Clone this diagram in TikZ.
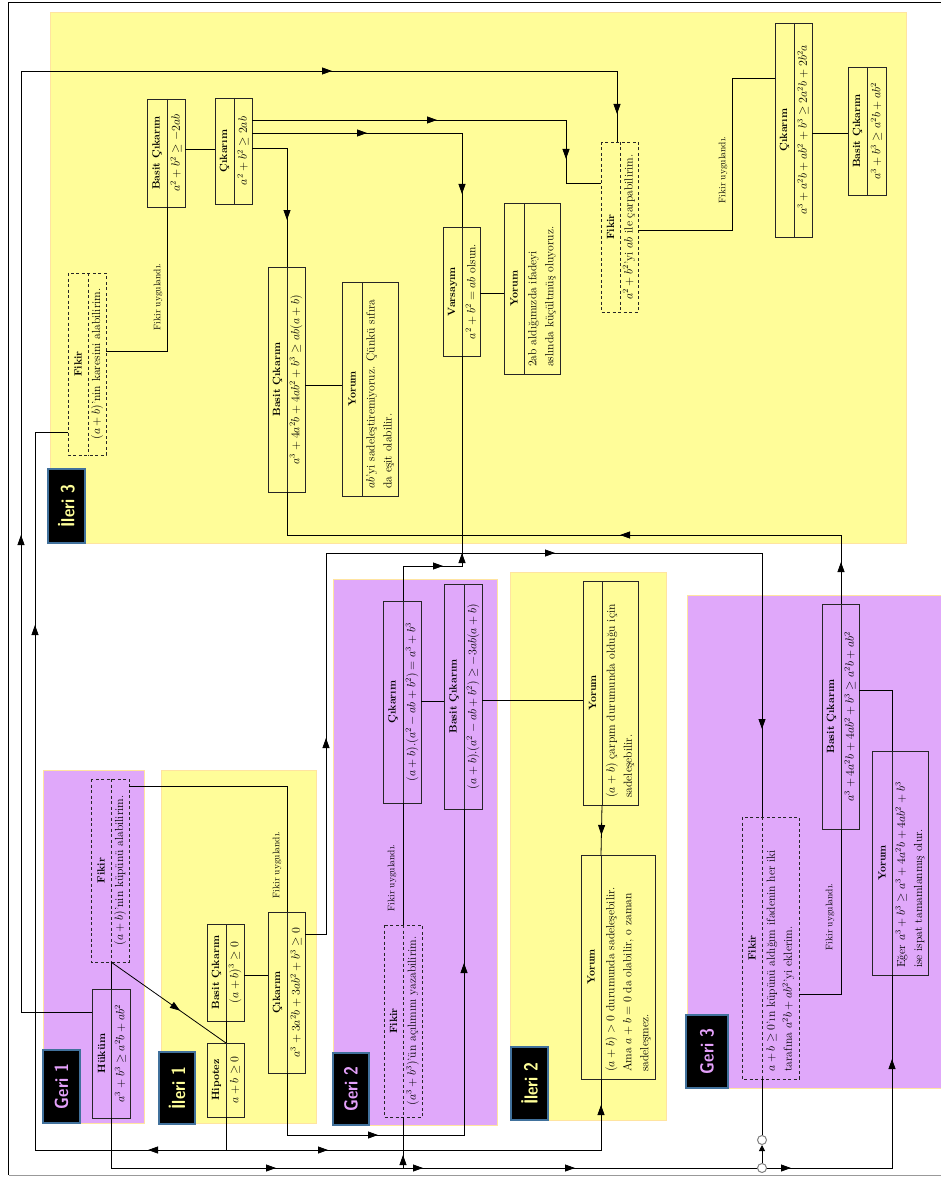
\documentclass[tikz,border=0pt]{standalone}
\usetikzlibrary{arrows.meta,decorations.markings,calc}

\definecolor{yel}{RGB}{255,253,153}
\definecolor{pur}{RGB}{224,168,250}
\definecolor{zoneedge}{RGB}{255,228,160}
\definecolor{tagblue}{RGB}{65,113,156}
\definecolor{yeltxt}{RGB}{255,255,153}
\definecolor{purtxt}{RGB}{228,160,250}

\tikzset{
  zone/.style={draw=zoneedge, line width=0.8pt},
  tag/.style={fill=black, draw=tagblue, line width=1.4pt, rotate=90, inner sep=0pt,
    font=\fontsize{19}{20}\selectfont\sffamily\bfseries},
  boxline/.style={draw=black!85, line width=0.8pt},
  titletext/.style={rotate=90, inner sep=0pt, font=\fontsize{10.5}{12}\selectfont\bfseries},
  bodytext/.style={rotate=90, inner sep=0pt, font=\fontsize{11.7}{17}\selectfont},
  fikirdash/.style={dash pattern=on 3pt off 2.5pt},
  conn/.style={draw=black, line width=0.8pt},
  lbl/.style={rotate=90, inner sep=0pt, font=\fontsize{9.5}{11}\selectfont},
  marks/.style={postaction={decorate}, decoration={markings, #1}},
  junction/.style={circle, draw=black!50, fill=white, line width=1pt, minimum size=9pt, inner sep=0pt},
}
\newcommand\tip{\arrow{Triangle[length=10pt,width=7pt]}}
\newcommand\narrow[1]{\scalebox{0.85}[1]{#1}}

% two-part box: name, x1, y1, x2, y2, divider x, line style, title, one-line content
\newcommand\twobox[9]{%
  \node[boxline, #7, rotate=90, minimum width={#5-#3}, minimum height={#4-#2}, inner sep=0pt]
    (#1) at ({(#2+#4)/2},{(#3+#5)/2}) {};
  \coordinate (#1-t) at (#6,#3);
  \coordinate (#1-b) at (#6,#5);
  \coordinate (#1-l) at (#2,{(#3+#5)/2});
  \coordinate (#1-r) at (#4,{(#3+#5)/2});
  \draw[boxline, #7] (#1-t) -- (#1-b);
  \node[titletext] at ({(#2+#6)/2},{(#3+#5)/2}) {#8};
  \node[bodytext] at ({(#6+#4)/2},{(#3+#5)/2}) {#9};
}
% same box, with several left-aligned lines of content
\newcommand\twoboxl[9]{%
  \node[boxline, #7, rotate=90, minimum width={#5-#3}, minimum height={#4-#2}, inner sep=0pt]
    (#1) at ({(#2+#4)/2},{(#3+#5)/2}) {};
  \coordinate (#1-t) at (#6,#3);
  \coordinate (#1-b) at (#6,#5);
  \coordinate (#1-l) at (#2,{(#3+#5)/2});
  \coordinate (#1-r) at (#4,{(#3+#5)/2});
  \draw[boxline, #7] (#1-t) -- (#1-b);
  \node[titletext] at ({(#2+#6)/2},{(#3+#5)/2}) {#8};
  \node[bodytext, align=left, anchor=west] at ({(#6+#4)/2},{#5-7}) {#9};
}

\begin{document}
\begin{tikzpicture}[x=1pt, y=-1pt]
\useasboundingbox (0,0) rectangle (941,1177);
\fill[white] (0,0) rectangle (941,1177);

% outer frame
\draw[line width=1.8pt] (945,2.5) -- (8.5,2.5) -- (8.5,1175);
\draw[black!40, line width=1pt] (8.5,1175) -- (945,1175);

% zones
\path[zone, fill=yel] (50,12) rectangle (906,543);
\path[zone, fill=pur] (43,770) rectangle (144,1123);
\path[zone, fill=yel] (161,770) rectangle (316,1123);
\path[zone, fill=pur] (333,579) rectangle (497,1125);
\path[zone, fill=yel] (510,572) rectangle (666,1120);
\path[zone, fill=pur] (687,595) rectangle (950,1088);

% zone tags
\node[tag, text=yeltxt, minimum width=74, minimum height=37] (tagI3) at (66.5,506) {\narrow{İleri 3}};
\node[tag, text=purtxt, minimum width=73, minimum height=37] (tagG1) at (61.5,1086.5) {\narrow{Geri 1}};
\node[tag, text=yeltxt, minimum width=72, minimum height=36] (tagI1) at (177,1088) {\narrow{İleri 1}};
\node[tag, text=purtxt, minimum width=72, minimum height=36] (tagG2) at (351,1089) {\narrow{Geri 2}};
\node[tag, text=yeltxt, minimum width=73, minimum height=37] (tagI2) at (529.5,1083.5) {\narrow{İleri 2}};
\node[tag, text=purtxt, minimum width=73, minimum height=42] (tagG3) at (707,1051.5) {\narrow{Geri 3}};

% boxes
\twobox{A}{68}{273}{106}{455}{88}{fikirdash}{Fikir}{$(a+b)$'nin karesini alabilirim.}
\twobox{B}{147}{99}{185}{207}{167}{solid}{Basit Çıkarım}{$a^2+b^2\geq -2ab$}
\twobox{C}{215}{98}{252}{204}{234}{solid}{Çıkarım}{$a^2+b^2\geq 2ab$}
\twobox{D}{268}{267}{305}{492}{287}{solid}{Basit Çıkarım}{$a^3+4a^2b+4ab^2+b^3\geq ab(a+b)$}
\twoboxl{E}{342}{282}{398}{496}{362}{solid}{Yorum}{$ab$'yi sadeleştiremiyoruz. Çünkü sıfıra\\da eşit olabilir.}
\twobox{F}{443}{227}{480}{356}{462}{solid}{Varsayım}{$a^2+b^2=ab$ olsun.}
\twoboxl{G}{504}{203}{560}{374}{524}{solid}{Yorum}{2ab aldığımızda ifadeyi\\aslında küçültmüş oluyoruz.}
\twobox{H}{601}{142}{638}{312}{620}{fikirdash}{Fikir}{$a^2+b^2$'yi $ab$ ile çarpabilirim.}
\twobox{I}{775}{23}{812}{237}{794}{solid}{Çıkarım}{$a^3+a^2b+ab^2+b^3\geq 2a^2b+2b^2a$}
\twobox{J}{848}{67}{886}{195}{867}{solid}{Basit Çıkarım}{$a^3+b^3\geq a^2b+ab^2$}
\twobox{K}{91}{779}{129}{962}{111}{fikirdash}{Fikir}{$(a+b)$'nin küpünü alabilirim.}
\twobox{L}{92}{989}{130}{1118}{111}{solid}{Hüküm}{$a^3+b^3\geq a^2b+ab^2$}
\twobox{M}{207}{924}{244}{1021}{226}{solid}{Basit Çıkarım}{$(a+b)^3\geq 0$}
\twobox{N}{207}{1043}{244}{1117}{226}{solid}{Hipotez}{$a+b\geq 0$}
\twobox{O}{268}{912}{305}{1073}{287}{solid}{Çıkarım}{$a^3+3a^2b+3ab^2+b^3\geq 0$}
\twobox{P}{383}{601}{421}{803}{403}{solid}{Çıkarım}{$(a+b).(a^2-ab+b^2)=a^3+b^3$}
\twobox{Q}{444}{584}{482}{809}{464}{solid}{Basit Çıkarım}{$(a+b).(a^2-ab+b^2)\geq -3ab(a+b)$}
\twobox{R}{384}{925}{422}{1117}{403}{fikirdash}{Fikir}{$(a^3+b^3)$'ün açılımını yazabilirim.}
\twoboxl{S}{583}{581}{638}{805}{602}{solid}{Yorum}{$(a+b)$ çarpım durumunda olduğu için\\sadeleşebilir.}
\twoboxl{T}{581}{855}{655}{1079}{601}{solid}{Yorum}{$(a+b)>0$ durumunda sadeleşebilir.\\Ama $a+b=0$ da olabilir, o zaman\\sadeleşmez.}
\twobox{U}{822}{604}{859}{829}{841}{solid}{Basit Çıkarım}{$a^3+4a^2b+4ab^2+b^3\geq a^2b+ab^2$}
\twoboxl{V}{872}{751}{928}{975}{892}{solid}{Yorum}{Eğer $a^3+b^3\geq a^3+4a^2b+4ab^2+b^3$\\ise ispat tamamlanmış olur.}
\twoboxl{W}{742}{817}{799}{1079}{762}{fikirdash}{Fikir}{$a+b\geq 0$'ın küpünü aldığım ifadenin her iki\\tarafına $a^2b+ab^2$'yi eklerim.}

% connectors, upper zone
\draw[conn] (A-r |- 0,351) -| (B-b);
\node[lbl] (fu1) at (158,297) {Fikir uygulandı.};
\draw[conn] (B-r |- 0,149) -- (C-l |- 0,149);
\draw[conn, marks={mark=at position 185pt with {\tip}, mark=at position 353pt with {\tip}}]
  (C-r |- 0,120) -| (566,183) -- (H-l |- 0,183);
\draw[conn, marks={mark=at position 115pt with {\tip}, mark=at position 271pt with {\tip}}]
  (C-r |- 0,133) -| (F-t);
\draw[conn, marks={mark=at position 107pt with {\tip}}] (C-r |- 0,148) -| (D-t);
\draw[conn] (D-r |- 0,385) -- (E-l |- 0,385);
\draw[conn] (F-r |- 0,293) -- (G-l |- 0,293);
\draw[conn] (H-r |- 0,230) -| (732,78) -- (I-l |- 0,78);
\node[lbl] (fu2) at (723,170) {Fikir uygulandı.};
\draw[conn] (I-r |- 0,133) -- (J-l |- 0,133);

% long loops on the left
\draw[conn, marks={mark=at position 548pt with {\tip}, mark=at position 1323pt with {\tip}, mark=at position 1651pt with {\tip}}]
  (L-l |- 0,1012) -| (21,71) -| ([xshift=-3pt]H-t);
\draw[conn, marks={mark=at position 111pt with {\tip}, mark=at position 749pt with {\tip}}]
  (N-b) |- (35,1150) |- (A-l |- 0,432);
\draw[conn, marks={mark=at position 135pt with {\tip}, mark=at position 453pt with {\tip}}]
  (N-b) |- (T-b |- 0,1150) -- (T-b);

% bottom rail
\draw[conn, marks={mark=at position 215pt with {\tip}, mark=at position 362pt with {\tip}, mark=at position 514pt with {\tip}, mark=at position 730pt with {\tip}, mark=at position 940pt with {\tip}}]
  (L-b) |- (V-b |- 0,1168) -- (V-b);
\draw[conn, marks={mark=at position 13pt with {\tip}}] (R-b |- 0,1168) -- (R-b);
\node[junction] (j1) at (W-b |- 0,1140) {};
\node[junction] (j2) at (W-b |- 0,1168) {};
\draw[conn] (W-b) -- (j1);
\draw[conn, -{Triangle[length=6pt,width=6pt]}] (j2) -- (j1);

% lower zones
\draw[conn] (K-b) -- (L-t);
\draw[conn, marks={mark=at position 0.6 with {\tip}}] (K-b) -- (N-t);
\draw[conn] (M-b) -- (N-t);
\draw[conn] (M-r |- 0,975) -- (O-l |- 0,975);
\draw[conn] (K-r |- 0,786) -| (O-t);
\node[lbl] (fu3) at (277,865) {Fikir uygulandı.};
\draw[conn, marks={mark=at position 217pt with {\tip}, mark=at position 631pt with {\tip}, mark=at position 1014pt with {\tip}}]
  (O-r |- 0,934) -| (326,553) -| (W-t);
\draw[conn, marks={mark=at position 153pt with {\tip}, mark=at position 411pt with {\tip}}]
  (O-b) |- (Q-b |- 0,1135) -- (Q-b);
\draw[conn] (P-r |- 0,701) -- (Q-l |- 0,701);
\draw[conn] (Q-r |- 0,700) -- (S-l |- 0,700);
\draw[conn, marks={mark=at position 30pt with {\tip}}] (S-b) -- (T-t);
\draw[conn, marks={mark=at position 75pt with {\tip}, mark=at position 107pt with {\tip}}]
  (P-t) |- (F-b |- 0,566) -- (F-b);
\draw[conn] (R-t) -- (P-b);
\node[lbl] (fu4) at (392,878) {Fikir uygulandı.};
\draw[conn, marks={mark=at position 42pt with {\tip}, mark=at position 290pt with {\tip}}]
  (U-t) |- (D-b |- 0,535) -- (D-b);
\draw[conn] (U-r |- 0,690) -| (V-t);
\draw[conn] (W-r |- 0,994) -| (U-b);
\node[lbl] (fu5) at (830,917) {Fikir uygulandı.};
\end{tikzpicture}
\end{document}
